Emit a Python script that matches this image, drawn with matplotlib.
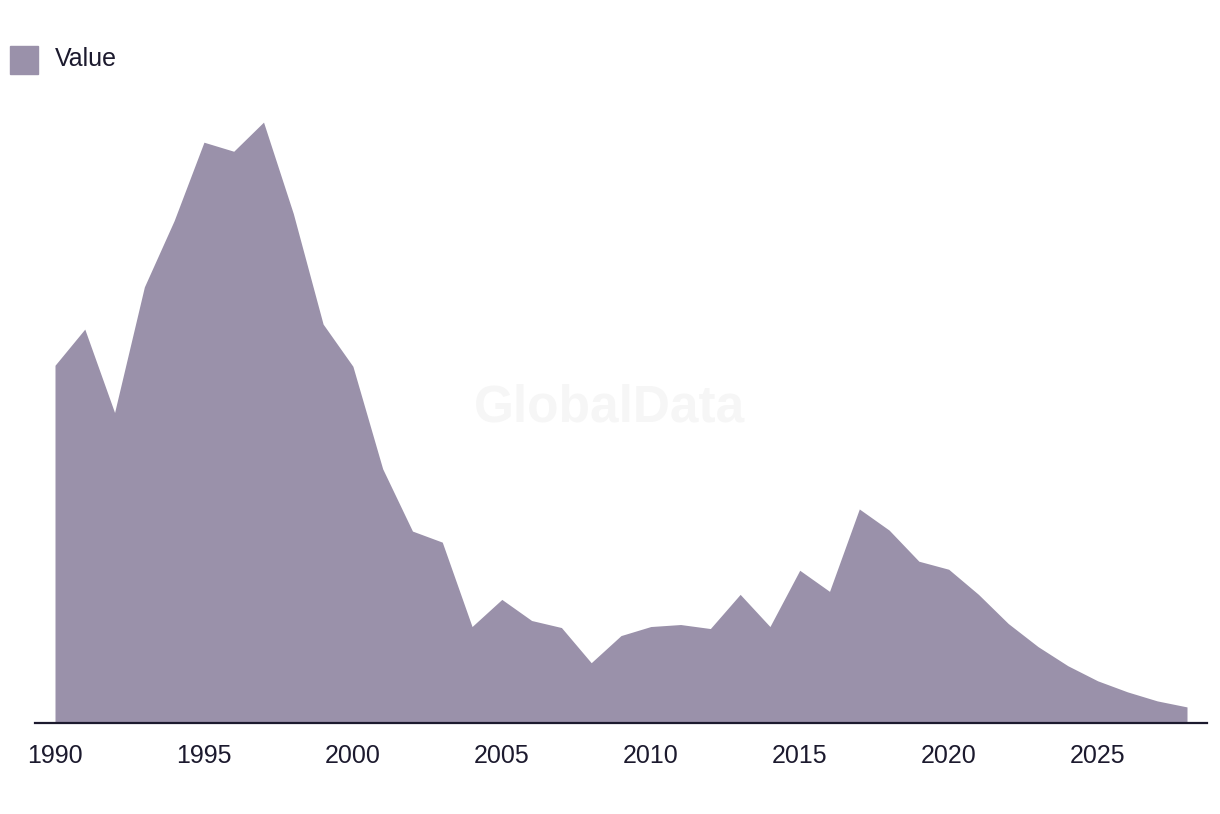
import matplotlib
matplotlib.use('Agg')
import matplotlib.pyplot as plt
from matplotlib.patches import Rectangle

years = list(range(1990, 2029))
values = [356, 392, 309, 434, 500, 578, 569, 598, 507, 397,
          355, 253, 191, 180, 96, 123, 102, 95, 60, 87,
          96, 98, 94, 128, 96, 152, 131, 213, 192, 161,
          153, 128, 99, 76, 57, 42, 31, 22, 16]
xticks = [1990, 1995, 2000, 2005, 2010, 2015, 2020, 2025]
series_name = 'Value'

fill_color = '#9a91aa'
text_color = '#1c1a2e'

plt.rcParams['font.family'] = ['Liberation Sans', 'DejaVu Sans']

fig = plt.figure(figsize=(12.2, 8.14), dpi=100)
ax = fig.add_axes([35 / 1220, 1 - 723 / 814, (1207 - 35) / 1220, (723 - 100) / 814])

ax.fill_between(years, values, 0, color=fill_color, linewidth=0)
ax.set_xlim(1990 - 20 / 29.79, 2028 + 20 / 29.79)
ax.set_ylim(0, 620)

for s in ['top', 'right', 'left']:
    ax.spines[s].set_visible(False)
ax.spines['bottom'].set_color(text_color)
ax.spines['bottom'].set_linewidth(1.6)
ax.set_yticks([])
ax.set_xticks(xticks)
ax.set_xticklabels([str(t) for t in xticks], fontsize=18, color=text_color)
ax.tick_params(axis='x', length=0, pad=15)

# watermark
fig.text(610 / 1220, 1 - 408 / 814, 'GlobalData', fontsize=37, fontweight='bold',
         color='#f6f6f6', ha='center', va='center', zorder=0)

# legend
fig.patches.append(Rectangle((10 / 1220, 1 - 74 / 814), 28 / 1220, 28 / 814,
                             transform=fig.transFigure, color=fill_color))
fig.text(55 / 1220, 1 - 59 / 814, series_name, fontsize=18, color=text_color,
         ha='left', va='center')

fig.savefig('out.png', dpi=100)
